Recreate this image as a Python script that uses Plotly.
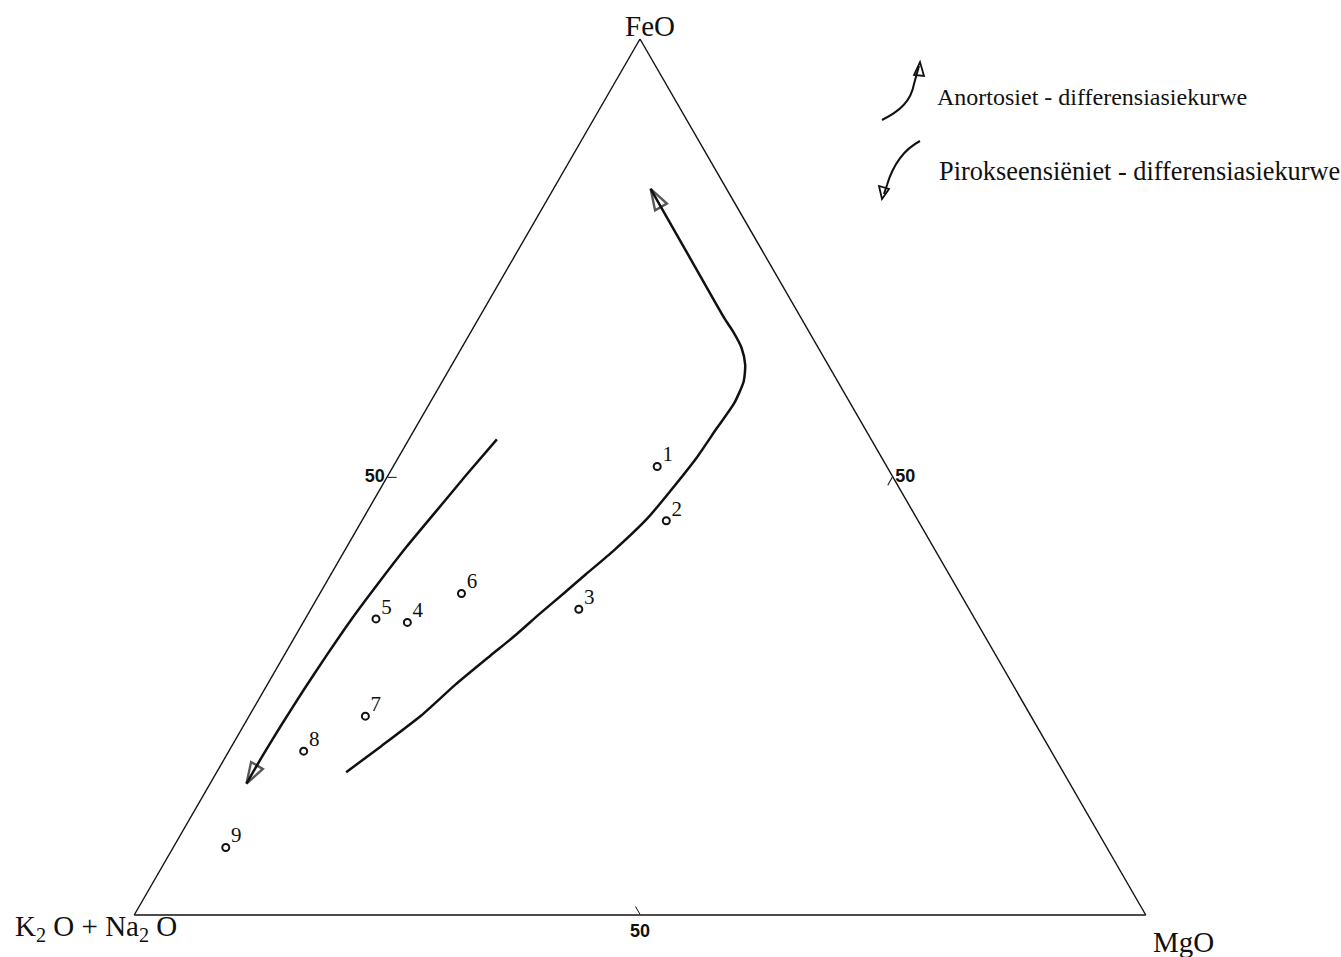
import plotly.graph_objects as go

# ---- data: FeO / (K2O+Na2O) / MgO, wt% normalised to 100 ----
sample_ids = ["1", "2", "3", "4", "5", "6", "7", "8", "9"]
sample_feo = [51.2, 45.0, 34.9, 33.4, 33.8, 36.7, 22.7, 18.7, 7.7]
sample_alk = [22.7, 24.9, 38.6, 56.3, 59.2, 49.3, 65.8, 73.9, 87.1]
sample_mgo = [26.1, 30.1, 26.5, 10.3, 7.0, 14.0, 11.5, 7.4, 5.2]

# anorthosite differentiation trend (arrow at the last point)
anor_feo = [16.3, 19.3, 22.8, 26.3, 29.6, 31.9, 34.4, 36.7, 38.9, 41.6, 45.3, 48.4,
            52.2, 55.5, 58.4, 60.9, 62.8, 64.7, 66.7, 68.1, 75.5, 82.9]
anor_alk = [70.9, 65.9, 60.2, 55.1, 50.0, 46.4, 42.7, 39.2, 35.9, 31.8, 26.6, 22.8,
            18.3, 14.7, 11.5, 9.3, 8.2, 7.6, 7.5, 7.6, 7.55, 7.5]
anor_mgo = [12.8, 14.8, 17.0, 18.6, 20.4, 21.7, 22.9, 24.1, 25.2, 26.6, 28.1, 28.8,
            29.5, 29.8, 30.1, 29.8, 29.0, 27.7, 25.8, 24.3, 16.95, 9.6]

# pyroxene-syenite differentiation trend
pyr_feo = [54.3, 50.2, 46.1, 42.0, 37.9, 33.8, 29.7, 25.6, 21.6, 18.1, 15.0]
pyr_alk = [37.0, 42.1, 47.1, 52.1, 56.9, 61.6, 66.1, 70.5, 74.7, 78.3, 81.4]
pyr_mgo = [8.7, 7.7, 6.8, 5.9, 5.2, 4.6, 4.2, 3.9, 3.7, 3.6, 3.6]

axis_ticks = [50]
axis_ticktext = ["50"]

legend_labels = ["Anortosiet - differensiasiekurwe",
                 "Pirokseensiëniet - differensiasiekurwe"]

# ---- page geometry ----
W_PAGE, H_PAGE = 1341, 957
M_L, M_T, M_R, M_B = 134, 39, 195, 42
PW = W_PAGE - M_L - M_R
PH = H_PAGE - M_T - M_B

SERIF = "Liberation Serif, Times New Roman, serif"
SANS = "Liberation Sans, Arial, sans-serif"
INK = "#111111"


def to_paper(x, y):
    return (x - M_L) / PW, 1 - (y - M_T) / PH


def path(points):
    out = []
    for cmd, x, y in points:
        px, py = to_paper(x, y)
        out.append(f"{cmd}{px:.5f},{py:.5f}")
    return " ".join(out)


def trend(a, b, c):
    n = len(a)
    return go.Scatterternary(
        a=a, b=b, c=c,
        mode="lines+markers",
        line=dict(color=INK, width=2.5, shape="spline", smoothing=0.6),
        marker=dict(
            symbol=["circle"] * (n - 1) + ["arrow-open"],
            size=[0] * (n - 1) + [22],
            angleref="previous",
            color=INK,
            line=dict(color=INK, width=2.4),
        ),
        hoverinfo="skip",
        cliponaxis=False,
    )


fig = go.Figure()
fig.add_trace(trend(anor_feo, anor_alk, anor_mgo))
fig.add_trace(trend(pyr_feo, pyr_alk, pyr_mgo))
# sample points (open circles)
fig.add_trace(go.Scatterternary(
    a=sample_feo, b=sample_alk, c=sample_mgo,
    mode="markers",
    marker=dict(symbol="circle-open", size=7, color=INK, line=dict(width=2)),
    cliponaxis=False,
))
# sample numbers, set just above-right of each circle
fig.add_trace(go.Scatterternary(
    a=sample_feo, b=sample_alk, c=sample_mgo,
    mode="text",
    text=[" " + s for s in sample_ids],
    textposition="top right",
    textfont=dict(family=SERIF, size=21, color=INK),
    cliponaxis=False,
))

axis_style = dict(
    min=0,
    showline=True, linecolor=INK, linewidth=1.4,
    showgrid=False,
    tickmode="array", tickvals=axis_ticks, ticktext=axis_ticktext,
    ticks="inside", ticklen=9, tickwidth=1.4, tickcolor=INK,
    tickfont=dict(family=SANS, size=18, color=INK, weight="bold"),
    title=dict(text=""),
)

# legend glyphs drawn beside the triangle
shapes = [
    dict(type="path", xref="paper", yref="paper",
         path=path([("M", 882, 120), ("C", 900, 111), (" ", 911, 101), (" ", 914, 84),
                    ("L", 919, 66)]),
         line=dict(color=INK, width=2)),
    dict(type="path", xref="paper", yref="paper",
         path=path([("M", 920, 62), ("L", 914, 75), ("L", 924, 76), ("L", 920, 62)]) + " Z",
         line=dict(color=INK, width=1.8)),
    dict(type="path", xref="paper", yref="paper",
         path=path([("M", 920, 141), ("C", 903, 150), (" ", 893, 165), (" ", 887, 185),
                    ("L", 884, 194)]),
         line=dict(color=INK, width=2)),
    dict(type="path", xref="paper", yref="paper",
         path=path([("M", 882, 199), ("L", 879, 186), ("L", 889, 189), ("L", 882, 199)]) + " Z",
         line=dict(color=INK, width=1.8)),
]

annotations = []


def label(text, x, y, size, xanchor="center"):
    px, py = to_paper(x, y)
    annotations.append(dict(
        text=text, x=px, y=py, xref="paper", yref="paper",
        xanchor=xanchor, yanchor="middle", showarrow=False,
        font=dict(family=SERIF, size=size, color=INK),
    ))


label("FeO", 650, 26, 29)
label("K<sub>2</sub> O + Na<sub>2</sub> O", 96, 928, 29)
label("MgO", 1183, 942, 29)
label(legend_labels[0], 935, 97, 24, xanchor="left")
label(legend_labels[1], 937, 172, 26.3, xanchor="left")

fig.update_layout(
    width=W_PAGE, height=H_PAGE, autosize=False,
    margin=dict(l=M_L, r=M_R, t=M_T, b=M_B, pad=0),
    paper_bgcolor="white",
    showlegend=False,
    ternary=dict(
        sum=100,
        bgcolor="white",
        domain=dict(x=[0, 1], y=[0, 1]),
        aaxis=axis_style,
        baxis=axis_style,
        caxis=axis_style,
    ),
    shapes=shapes,
    annotations=annotations,
)

fig.write_html("out.html")
